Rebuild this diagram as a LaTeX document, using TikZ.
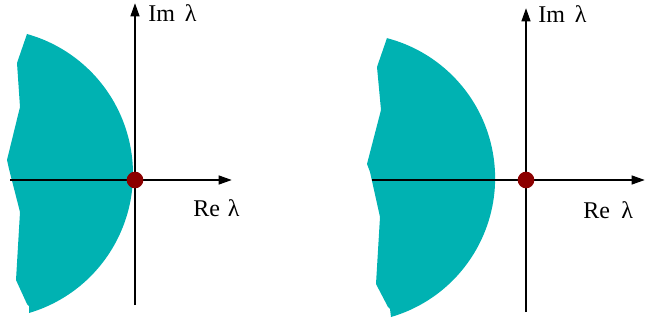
\documentclass[tikz,border=0pt]{standalone}
\usepackage{fontspec}
\setmainfont{Liberation Serif}
\usetikzlibrary{arrows.meta}
\definecolor{regionteal}{RGB}{0,178,178}
\definecolor{pointred}{RGB}{140,0,0}
\begin{document}
\begin{tikzpicture}[x=0.75pt,y=-0.75pt,
  axis/.style={line width=1.7pt,-{Triangle[length=10pt,width=6.5pt]}},
  region/.style={fill=regionteal,draw=none},
  origin/.style={circle,fill=pointred,inner sep=0pt,minimum size=12.5pt},
  lbl/.style={anchor=base west,inner sep=0pt,font=\fontsize{18}{21}\selectfont}]
\useasboundingbox (0,0) rectangle (645,320);
% ---------- left panel ----------
\fill[region] (27,34) -- (17,63) -- (20,107) -- (7,160) -- (9,169) -- (20,212)
  -- (16,280) -- (27,304) -- (29,306) -- (29,313)
  arc[start angle=73.5,end angle=-74.4,radius=145.2] -- cycle;
\coordinate (L-xs) at (10,180);
\coordinate (L-xe) at (232,180);
\coordinate (L-ys) at (135,305);
\coordinate (L-ye) at (135,3);
\draw[axis] (L-xs) -- (L-xe);
\draw[axis] (L-ys) -- (L-ye);
\node[origin] (L-o) at (135,180) {};
\node[lbl] (L-im) at (148,22) {Im\hspace{7.5pt}λ};
\node[lbl] (L-re) at (193,216) {Re\hspace{6pt}λ};
% ---------- right panel ----------
\fill[region] (387,38) -- (377,67) -- (381,110) -- (367,164) -- (370,172) -- (380,217)
  -- (376,284) -- (388,307) -- (390,309) -- (391,317)
  arc[start angle=73.7,end angle=-75.3,radius=144.7] -- cycle;
\coordinate (R-xs) at (372,180);
\coordinate (R-xe) at (645,180);
\coordinate (R-ys) at (526,312);
\coordinate (R-ye) at (526,8);
\draw[axis] (R-xs) -- (R-xe);
\draw[axis] (R-ys) -- (R-ye);
\node[origin] (R-o) at (526,180) {};
\node[lbl] (R-im) at (538,23) {Im\hspace{7.5pt}λ};
\node[lbl] (R-re) at (583,219) {Re\hspace{8.5pt}λ};
\end{tikzpicture}
\end{document}
